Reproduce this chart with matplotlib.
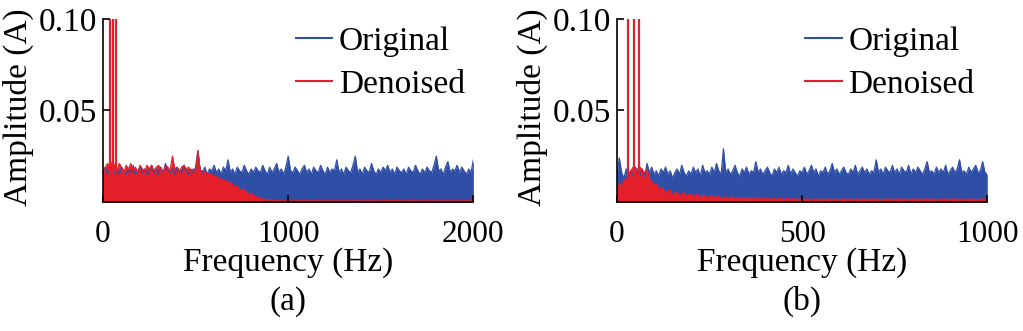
import matplotlib
matplotlib.use("Agg")
import matplotlib.pyplot as plt
import numpy as np

plt.rcParams["font.family"] = ["Liberation Serif", "DejaVu Serif"]
plt.rcParams["font.size"] = 24

blue = "#2f4fa6"
red = "#e5202a"

# panel (a): 0-2000 Hz, 12.5 Hz step
orig_a = [
    0.016, 0.019, 0.015, 0.017, 0.020, 0.016, 0.018, 0.015, 0.019, 0.017,
    0.015, 0.018, 0.016, 0.020, 0.015, 0.017, 0.019, 0.016, 0.018, 0.015,
    0.017, 0.020, 0.016, 0.018, 0.015, 0.019, 0.016, 0.021, 0.017, 0.016,
    0.018, 0.015, 0.019, 0.017, 0.016, 0.020, 0.017, 0.015, 0.018, 0.016,
    0.019, 0.028, 0.017, 0.016, 0.019, 0.015, 0.018, 0.017, 0.020, 0.016,
    0.018, 0.015, 0.019, 0.017, 0.023, 0.016, 0.018, 0.015, 0.019, 0.017,
    0.016, 0.020, 0.017, 0.015, 0.018, 0.016, 0.019, 0.017, 0.016, 0.020,
    0.017, 0.015, 0.019, 0.016, 0.018, 0.021, 0.016, 0.018, 0.015, 0.019,
    0.025, 0.017, 0.016, 0.019, 0.017, 0.015, 0.018, 0.020, 0.016, 0.018,
    0.015, 0.019, 0.017, 0.016, 0.020, 0.017, 0.015, 0.019, 0.016, 0.018,
    0.017, 0.023, 0.016, 0.018, 0.015, 0.019, 0.017, 0.016, 0.020, 0.025,
    0.016, 0.018, 0.015, 0.019, 0.017, 0.016, 0.021, 0.017, 0.015, 0.018,
    0.016, 0.019, 0.017, 0.020, 0.016, 0.018, 0.015, 0.019, 0.017, 0.016,
    0.018, 0.015, 0.019, 0.017, 0.016, 0.020, 0.017, 0.015, 0.018, 0.016,
    0.019, 0.017, 0.016, 0.020, 0.025, 0.017, 0.018, 0.015, 0.019, 0.022,
    0.016, 0.018, 0.017, 0.020, 0.016, 0.019, 0.017, 0.015, 0.018, 0.016,
    0.023,
]
den_a = [
    0.016, 0.019, 0.021, 0.018, 0.022, 0.020, 0.017, 0.021, 0.019, 0.016,
    0.020, 0.018, 0.021, 0.017, 0.019, 0.016, 0.020, 0.018, 0.017, 0.020,
    0.018, 0.020, 0.017, 0.019, 0.020, 0.018, 0.016, 0.020, 0.019, 0.017,
    0.025, 0.018, 0.019, 0.017, 0.019, 0.020, 0.018, 0.019, 0.017, 0.018,
    0.017, 0.028, 0.017, 0.017, 0.016, 0.016, 0.015, 0.015, 0.014, 0.014,
    0.012, 0.013, 0.011, 0.012, 0.010, 0.011, 0.009, 0.008, 0.009, 0.007,
    0.006, 0.007, 0.005, 0.004, 0.005, 0.003, 0.003, 0.002, 0.002, 0.0015,
    0.0015, 0.001, 0.001, 0.0008, 0.0008, 0.0007, 0.0006, 0.0006, 0.0006, 0.0005,
    0.0006, 0.0005, 0.0007, 0.0005, 0.0006, 0.0005, 0.0006, 0.0007, 0.0005, 0.0006,
    0.0005, 0.0006, 0.0005, 0.0007, 0.0006, 0.0005, 0.0006, 0.0005, 0.0006, 0.0007,
    0.0005, 0.0006, 0.0005, 0.0006, 0.0007, 0.0005, 0.0006, 0.0005, 0.0006, 0.0005,
    0.0007, 0.0006, 0.0005, 0.0006, 0.0005, 0.0006, 0.0007, 0.0005, 0.0006, 0.0005,
    0.0006, 0.0005, 0.0007, 0.0006, 0.0005, 0.0006, 0.0005, 0.0006, 0.0007, 0.0005,
    0.0006, 0.0005, 0.0006, 0.0005, 0.0007, 0.0006, 0.0005, 0.0006, 0.0005, 0.0006,
    0.0007, 0.0005, 0.0006, 0.0005, 0.0006, 0.0005, 0.0007, 0.0006, 0.0005, 0.0006,
    0.0005, 0.0006, 0.0007, 0.0005, 0.0006, 0.0005, 0.0006, 0.0005, 0.0007, 0.0006,
    0.0005,
]
spike_f_a = [40, 55, 70]
spike_amp_a = [0.12, 0.12, 0.12]

# panel (b): 0-1000 Hz, 6.25 Hz step
orig_b = [
    0.014, 0.024, 0.016, 0.013, 0.018, 0.015, 0.017, 0.014, 0.019, 0.016,
    0.015, 0.018, 0.014, 0.021, 0.016, 0.019, 0.015, 0.017, 0.014, 0.018,
    0.016, 0.019, 0.015, 0.017, 0.013, 0.016, 0.018, 0.015, 0.020, 0.016,
    0.014, 0.017, 0.015, 0.019, 0.016, 0.018, 0.014, 0.020, 0.016, 0.017,
    0.015, 0.019, 0.016, 0.021, 0.017, 0.015, 0.029, 0.016, 0.018, 0.015,
    0.017, 0.020, 0.016, 0.014, 0.018, 0.016, 0.019, 0.015, 0.017, 0.016,
    0.022, 0.016, 0.018, 0.015, 0.017, 0.019, 0.016, 0.014, 0.018, 0.016,
    0.019, 0.015, 0.017, 0.016, 0.020, 0.015, 0.018, 0.016, 0.014, 0.017,
    0.016, 0.019, 0.015, 0.017, 0.020, 0.016, 0.018, 0.014, 0.017, 0.016,
    0.019, 0.015, 0.017, 0.021, 0.016, 0.018, 0.015, 0.017, 0.019, 0.016,
    0.015, 0.018, 0.016, 0.020, 0.015, 0.017, 0.019, 0.016, 0.018, 0.015,
    0.017, 0.016, 0.023, 0.016, 0.018, 0.015, 0.019, 0.017, 0.016, 0.020,
    0.016, 0.018, 0.015, 0.019, 0.017, 0.016, 0.020, 0.015, 0.018, 0.016,
    0.019, 0.017, 0.015, 0.018, 0.022, 0.016, 0.017, 0.015, 0.019, 0.016,
    0.018, 0.016, 0.020, 0.015, 0.017, 0.019, 0.016, 0.018, 0.023, 0.016,
    0.017, 0.015, 0.019, 0.016, 0.018, 0.020, 0.016, 0.017, 0.022, 0.016,
    0.015,
]
den_b = [
    0.009, 0.010, 0.008, 0.012, 0.011, 0.015, 0.017, 0.019, 0.016, 0.018,
    0.019, 0.017, 0.016, 0.018, 0.013, 0.011, 0.009, 0.010, 0.007, 0.008,
    0.007, 0.004, 0.006, 0.0065, 0.0035, 0.005, 0.0055, 0.003, 0.0045, 0.005,
    0.0028, 0.004, 0.0045, 0.0025, 0.0038, 0.004, 0.0022, 0.0035, 0.0036, 0.002,
    0.003, 0.0033, 0.0018, 0.0028, 0.003, 0.0017, 0.0026, 0.0028, 0.0016, 0.0024,
    0.0026, 0.0015, 0.0023, 0.0024, 0.0014, 0.0022, 0.0023, 0.0013, 0.0021, 0.0022,
    0.0013, 0.002, 0.0021, 0.0012, 0.0019, 0.002, 0.0012, 0.0018, 0.0019, 0.0011,
    0.0018, 0.0019, 0.0011, 0.0017, 0.0018, 0.0011, 0.0016, 0.0017, 0.001, 0.0016,
    0.0015, 0.0012, 0.0016, 0.0014, 0.0011, 0.0015, 0.0016, 0.0012, 0.0014, 0.0015,
    0.0011, 0.0014, 0.0016, 0.0012, 0.0015, 0.0013, 0.0011, 0.0015, 0.0016, 0.0012,
    0.0014, 0.0015, 0.0011, 0.0013, 0.0016, 0.0012, 0.0015, 0.0014, 0.0011, 0.0015,
    0.0016, 0.0012, 0.0014, 0.0015, 0.0011, 0.0013, 0.0016, 0.0012, 0.0015, 0.0014,
    0.0011, 0.0015, 0.0016, 0.0012, 0.0014, 0.0015, 0.0011, 0.0013, 0.0016, 0.0012,
    0.0015, 0.0014, 0.0011, 0.0015, 0.0016, 0.0012, 0.0014, 0.0015, 0.0011, 0.0013,
    0.0016, 0.0012, 0.0015, 0.0014, 0.0011, 0.0015, 0.0016, 0.0012, 0.0014, 0.0015,
    0.0011, 0.0013, 0.0016, 0.0012, 0.0015, 0.0014, 0.0011, 0.0015, 0.0016, 0.0012,
    0.0014,
]
spike_f_b = [30, 45, 60]
spike_amp_b = [0.12, 0.12, 0.12]

panels = [
    dict(fmax=2000, orig=orig_a, den=den_a, sf=spike_f_a, sa=spike_amp_a,
         xticks=[0, 1000, 2000], tag="(a)", left=0.1007, leg_x=0.52,
         ylab_x=-0.186),
    dict(fmax=1000, orig=orig_b, den=den_b, sf=spike_f_b, sa=spike_amp_b,
         xticks=[0, 500, 1000], tag="(b)", left=0.6031, leg_x=0.508,
         ylab_x=-0.1875),
]

fig = plt.figure(figsize=(10.23, 3.31), dpi=100)

for p in panels:
    ax = fig.add_axes([p["left"], 0.39, 0.362, 0.553])
    f_o = np.linspace(0, p["fmax"], len(p["orig"]))
    f_d = np.linspace(0, p["fmax"], len(p["den"]))
    ax.fill_between(f_o, p["orig"], color=blue, lw=0)
    ax.plot(f_o, p["orig"], color=blue, lw=0.9, label="Original")
    ax.fill_between(f_d, p["den"], color=red, lw=0)
    ax.plot(f_d, p["den"], color=red, lw=0.9, label="Denoised")
    ax.vlines(p["sf"], 0, p["sa"], color=red, lw=1.6)

    ax.set_xlim(0, p["fmax"])
    ax.set_ylim(0, 0.10)
    ax.set_xticks(p["xticks"])
    ax.set_yticks([0.05, 0.10])
    ax.set_yticklabels(["0.05", "0.10"])
    ax.spines["top"].set_visible(False)
    ax.spines["right"].set_visible(False)
    ax.spines["left"].set_linewidth(1.2)
    ax.spines["bottom"].set_linewidth(1.2)
    ax.set_axisbelow(False)
    ax.tick_params(direction="in", length=5, width=1.2)
    ax.tick_params(axis="x", pad=13, labelsize=22.5)
    ax.tick_params(axis="y", pad=4.5)
    ax.set_xlabel("Frequency (Hz)")
    ax.set_ylabel("Amplitude (A)")
    ax.xaxis.set_label_coords(0.5, -0.25)
    ax.yaxis.set_label_coords(p["ylab_x"], 0.52)
    ax.text(0.5, -0.545, p["tag"], transform=ax.transAxes,
            ha="center", va="center")

    leg = ax.legend(loc="upper left", bbox_to_anchor=(p["leg_x"], 0.96),
                    frameon=False, handlelength=1.1, handletextpad=0.2,
                    labelspacing=0.38, borderpad=0, borderaxespad=0)
    for line in leg.get_lines():
        line.set_linewidth(1.5)

fig.savefig("out.png", dpi=100)
